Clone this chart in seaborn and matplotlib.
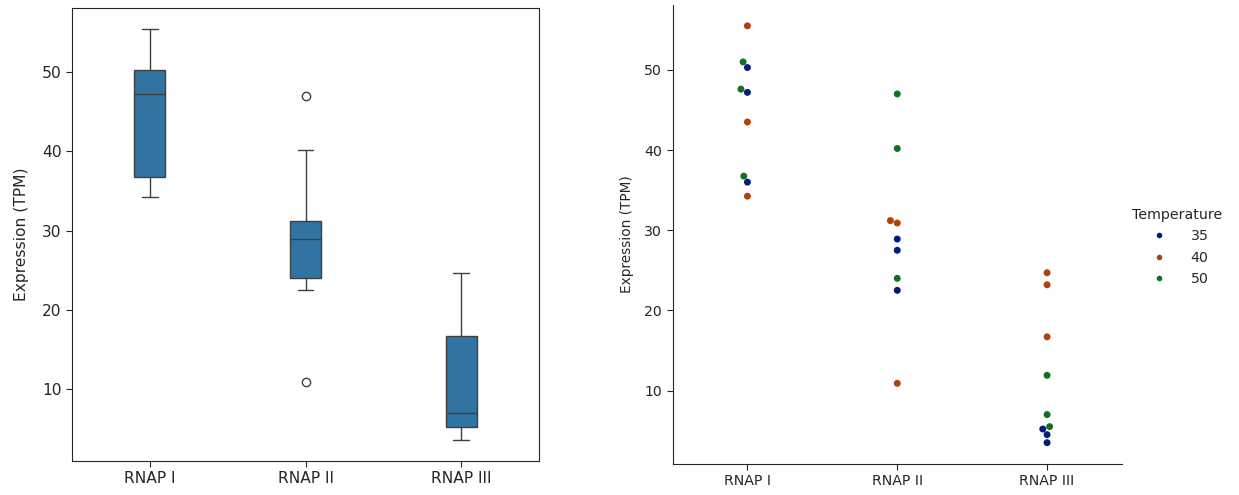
import numpy as np
import pandas as pd
import matplotlib
matplotlib.use("Agg")
import matplotlib.pyplot as plt
import seaborn as sns

categories = ["RNAP I", "RNAP II", "RNAP III"]
temperatures = [35, 40, 50]

# expression values per polymerase and temperature
rnap1_35 = [50.3, 47.2, 36.0]
rnap1_40 = [55.5, 43.5, 34.25]
rnap1_50 = [51.0, 47.6, 36.75]
rnap2_35 = [28.9, 27.5, 22.5]
rnap2_40 = [31.2, 30.9, 10.9]
rnap2_50 = [47.0, 40.2, 24.0]
rnap3_35 = [5.2, 4.5, 3.5]
rnap3_40 = [24.7, 23.2, 16.7]
rnap3_50 = [11.9, 7.0, 5.5]

series = {
    ("RNAP I", 35): rnap1_35, ("RNAP I", 40): rnap1_40, ("RNAP I", 50): rnap1_50,
    ("RNAP II", 35): rnap2_35, ("RNAP II", 40): rnap2_40, ("RNAP II", 50): rnap2_50,
    ("RNAP III", 35): rnap3_35, ("RNAP III", 40): rnap3_40, ("RNAP III", 50): rnap3_50,
}
rows = []
for (cat, t), vals in series.items():
    for v in vals:
        rows.append({"Polymerase": cat, "Temperature": t, "Expression (TPM)": v})
df = pd.DataFrame(rows)

sns.set_style("ticks")
plt.rcParams["font.family"] = ["DejaVu Sans"]

W, H = 1239, 495
fig = plt.figure(figsize=(W / 100, H / 100), dpi=100)

# left: boxplot
ax1 = fig.add_axes([72 / W, 1 - 461 / H, (539 - 72) / W, (461 - 8) / H])
sns.boxplot(data=df, x="Polymerase", y="Expression (TPM)", order=categories,
            width=0.2, color="#1f77b4", ax=ax1)
ax1.set_xlabel("")
ax1.set_ylabel("Expression (TPM)", fontsize=11.2, labelpad=9)
ax1.tick_params(labelsize=11.2, length=4)
ax1.set_yticks([10, 20, 30, 40, 50])

# right: swarm plot
ax2 = fig.add_axes([672.5 / W, 1 - 463.5 / H, (1122 - 672.5) / W, (463.5 - 5) / H])
sns.swarmplot(data=df, x="Polymerase", y="Expression (TPM)", hue="Temperature",
              order=categories, hue_order=temperatures, palette="dark",
              size=5, ax=ax2, legend=True)
ax2.set_xlabel("")
ax2.set_ylabel("Expression (TPM)", fontsize=9.8, labelpad=7)
ax2.tick_params(labelsize=10.2, length=4)
ax2.set_yticks([10, 20, 30, 40, 50])
sns.despine(ax=ax2)
handles, labels = ax2.get_legend_handles_labels()
ax2.get_legend().remove()
fig.legend(handles, labels, title="Temperature", loc="center left",
           bbox_to_anchor=(1119 / W, 1 - 247 / H), frameon=False,
           fontsize=10.2, title_fontsize=10.2, markerscale=0.8,
           handletextpad=1.2)

fig.savefig("out.png", dpi=100)
